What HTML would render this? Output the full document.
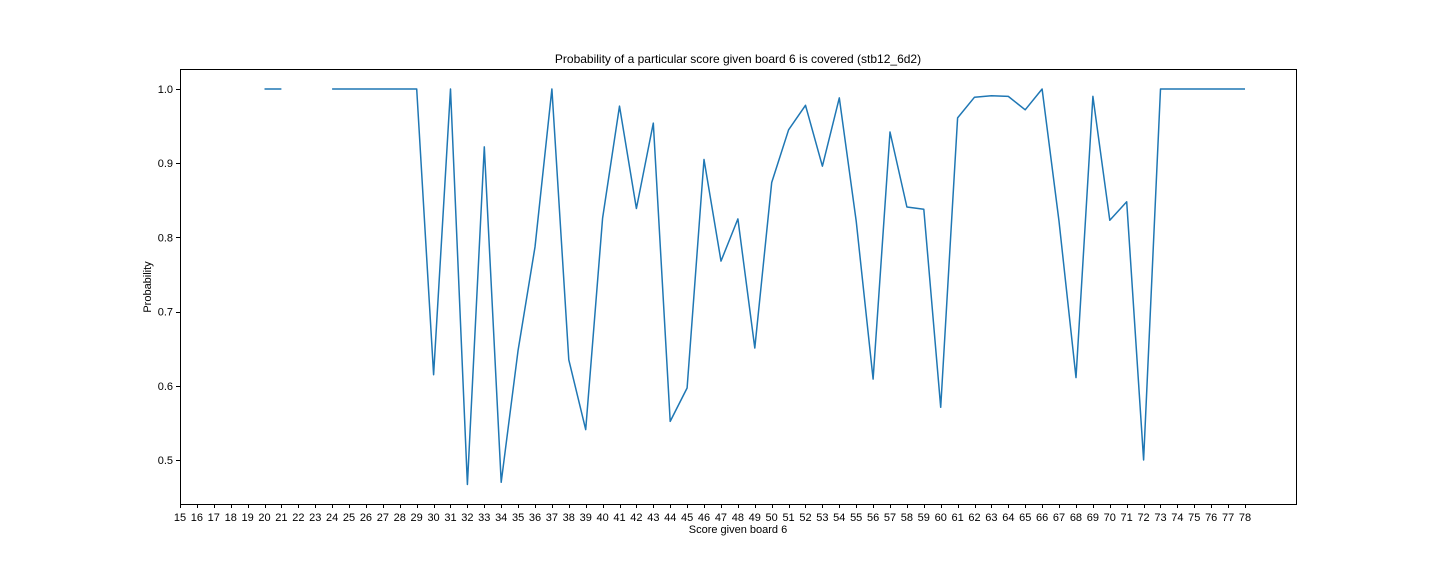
<!DOCTYPE html>
<html><head><meta charset="utf-8"><style>
body{margin:0;background:#fff}
svg{display:block;font-family:"Liberation Sans","DejaVu Sans",sans-serif}
</style></head><body>
<svg id="chart" width="1440" height="576"></svg>
<script>
const categories=[15,16,17,18,19,20,21,22,23,24,25,26,27,28,29,30,31,32,33,34,35,36,37,38,39,40,41,42,43,44,45,46,47,48,49,50,51,52,53,54,55,56,57,58,59,60,61,62,63,64,65,66,67,68,69,70,71,72,73,74,75,76,77,78];
const probabilities=[null,null,null,null,null,1,1,null,null,1,1,1,1,1,1,0.615,1,0.467,0.922,0.47,0.648,0.787,1,0.635,0.541,0.826,0.977,0.839,0.954,0.552,0.597,0.905,0.768,0.825,0.651,0.874,0.945,0.978,0.896,0.988,0.822,0.609,0.942,0.841,0.838,0.571,0.961,0.989,0.991,0.990,0.972,1,0.822,0.611,0.990,0.823,0.848,0.500,1,1,1,1,1,1];
const yTicks=[0.5,0.6,0.7,0.8,0.9,1.0];
const L=180,R=1296,T=69,B=504;
const xs=v=>180+(v-15)*(1245-180)/63;
const ys=v=>89+(1-v)*742;
const NS="http://www.w3.org/2000/svg";
const svg=document.getElementById('chart');
function mk(t,a,txt){const e=document.createElementNS(NS,t);for(const k in a)e.setAttribute(k,a[k]);if(txt!=null)e.textContent=txt;svg.appendChild(e);return e;}
const fr=mk('rect',{x:L+0.5,y:T+0.5,width:R-L,height:B-T,fill:'none',stroke:'#000','stroke-width':1,'shape-rendering':'crispEdges'});


categories.forEach(c=>{
 const x=Math.round(xs(c))+0.5;
 const t=mk('line',{x1:x,x2:x,y1:B,y2:B+4,stroke:'#000','shape-rendering':'crispEdges'});
 
 
 const l=mk('text',{x:xs(c),y:B+17,'font-size':11,'text-anchor':'middle'},String(c));
 
 
});
yTicks.forEach(v=>{
 const y=Math.round(ys(v))+0.5;
 const t=mk('line',{x1:L-4,x2:L,y1:y,y2:y,stroke:'#000','shape-rendering':'crispEdges'});
 
 
 const l=mk('text',{x:L-7,y:ys(v)+4,'font-size':11,'text-anchor':'end'},v.toFixed(1));
 
 
});
let d='',pen=false;
categories.forEach((c,i)=>{const v=probabilities[i];if(v==null){pen=false;return;}d+=(pen?'L':'M')+xs(c).toFixed(1)+' '+ys(v).toFixed(1)+' ';pen=true;});
const p=mk('path',{d:d,fill:'none',stroke:'#1f77b4','stroke-width':1.5,'stroke-linejoin':'round'});


const ti=mk('text',{x:738,y:63,'font-size':12,'text-anchor':'middle'},'Probability of a particular score given board 6 is covered (stb12_6d2)');


const xl=mk('text',{x:738,y:533,'font-size':11,'text-anchor':'middle'},'Score given board 6');


const yl=mk('text',{x:0,y:0,'font-size':11,'text-anchor':'middle',transform:'translate(151,287) rotate(-90)'},'Probability');


</script>
</body></html>
